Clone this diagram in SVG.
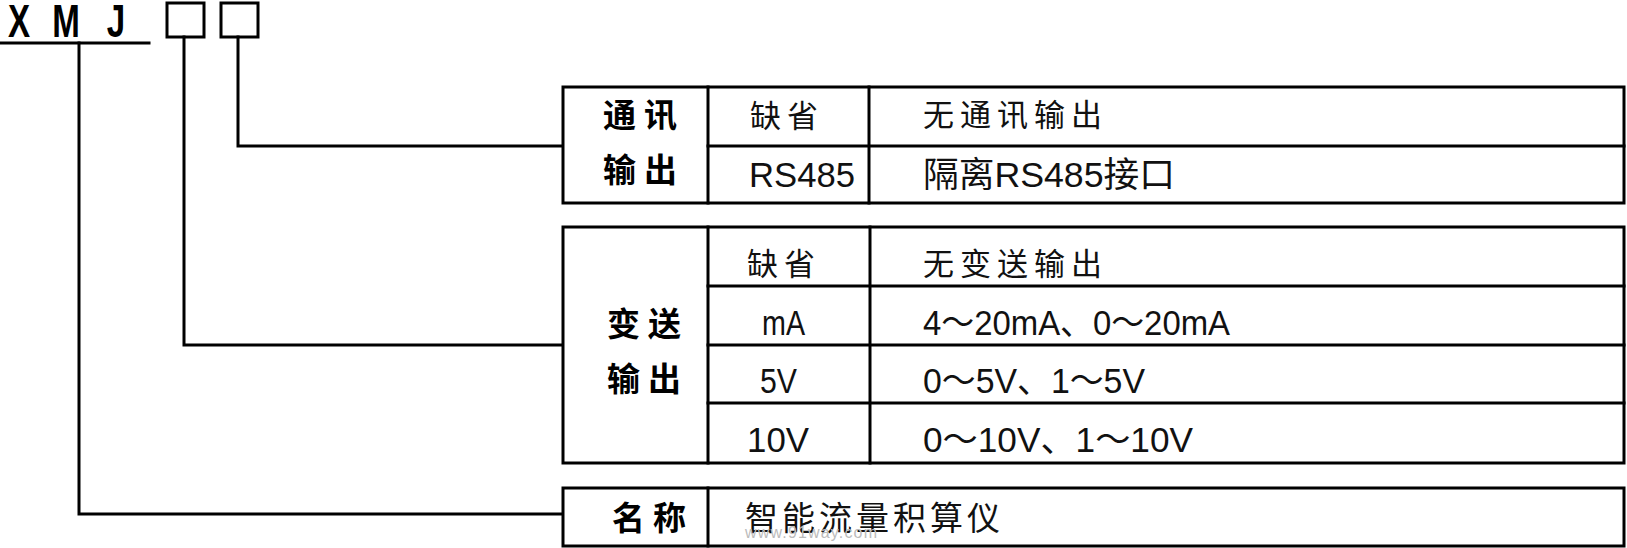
<svg xmlns="http://www.w3.org/2000/svg" width="1627" height="548" viewBox="0 0 1627 548">
<style>
.ln{fill:none;stroke:#000;stroke-width:3;stroke-linecap:square}
.tb{fill:#fff;stroke:#000;stroke-width:3}
.hd{font-family:"Noto Sans CJK SC","Noto Sans CJK JP",sans-serif;font-weight:bold;font-size:33px;letter-spacing:8px;fill:#000}
.cj{font-family:"Liberation Sans","Noto Sans CJK SC",sans-serif;font-size:31px;letter-spacing:6px;fill:#111}
.nm{font-family:"Liberation Sans","Noto Sans CJK SC",sans-serif;font-size:35px;fill:#111}
.code{font-family:"Liberation Sans",sans-serif;font-weight:bold;font-size:46px;fill:#000}
.wm{font-family:"Liberation Sans",sans-serif;font-size:16px;fill:#bbb}
</style>
<rect width="1627" height="548" fill="#fff"/>
<g id="model-code">
<text class="code" text-anchor="middle" transform="translate(19,37) scale(0.72,1)">X</text>
<text class="code" text-anchor="middle" transform="translate(66,37) scale(0.72,1)">M</text>
<text class="code" text-anchor="middle" transform="translate(116,37) scale(0.72,1)">J</text>
<line class="ln" x1="1" y1="43" x2="149" y2="43"/>
<rect class="ln" x="167" y="3" width="37" height="34"/>
<rect class="ln" x="221" y="3" width="37" height="34"/>
</g>
<g id="connectors">
<polyline class="ln" points="238,37 238,146 563,146"/>
<polyline class="ln" points="184,37 184,345 563,345"/>
<polyline class="ln" points="79,43 79,514 563,514"/>
</g>
<g id="comm-output">
<rect class="tb" x="563" y="87" width="1061" height="116"/>
<line class="ln" x1="708" y1="87" x2="708" y2="203"/>
<line class="ln" x1="869" y1="87" x2="869" y2="203"/>
<line class="ln" x1="708" y1="146" x2="1624" y2="146"/>
<text class="hd" x="603" y="127">通讯</text>
<text class="hd" x="603" y="182">输出</text>
<text class="cj" x="750" y="127">缺省</text>
<text class="nm" x="749" y="187" textLength="106" lengthAdjust="spacingAndGlyphs">RS485</text>
<text class="cj" x="923" y="126">无通讯输出</text>
<text class="nm" x="923" y="187" textLength="252" lengthAdjust="spacingAndGlyphs">隔离RS485接口</text>
</g>
<g id="transmit-output">
<rect class="tb" x="563" y="227" width="1061" height="236"/>
<line class="ln" x1="708" y1="227" x2="708" y2="463"/>
<line class="ln" x1="870" y1="227" x2="870" y2="463"/>
<line class="ln" x1="708" y1="286" x2="1624" y2="286"/>
<line class="ln" x1="708" y1="345" x2="1624" y2="345"/>
<line class="ln" x1="708" y1="403" x2="1624" y2="403"/>
<text class="hd" x="607" y="336">变送</text>
<text class="hd" x="607" y="391">输出</text>
<text class="cj" x="747" y="275">缺省</text>
<text class="nm" x="762" y="335" textLength="43" lengthAdjust="spacingAndGlyphs">mA</text>
<text class="nm" x="760" y="393" textLength="37" lengthAdjust="spacingAndGlyphs">5V</text>
<text class="nm" x="747" y="452" textLength="62" lengthAdjust="spacingAndGlyphs">10V</text>
<text class="cj" x="923" y="275">无变送输出</text>
<text class="nm" x="923" y="335" textLength="307" lengthAdjust="spacingAndGlyphs">4～20mA、0～20mA</text>
<text class="nm" x="923" y="393" textLength="222" lengthAdjust="spacingAndGlyphs">0～5V、1～5V</text>
<text class="nm" x="923" y="452" textLength="270" lengthAdjust="spacingAndGlyphs">0～10V、1～10V</text>
</g>
<g id="name">
<rect class="tb" x="563" y="488" width="1061" height="58"/>
<line class="ln" x1="708" y1="488" x2="708" y2="546"/>
<text class="hd" x="612" y="530">名称</text>
<text class="cj" x="745" y="530" style="font-size:33px;letter-spacing:4px">智能流量积算仪</text>
<text class="wm" x="745" y="538" textLength="132">www.91way.com</text>
</g>
</svg>
